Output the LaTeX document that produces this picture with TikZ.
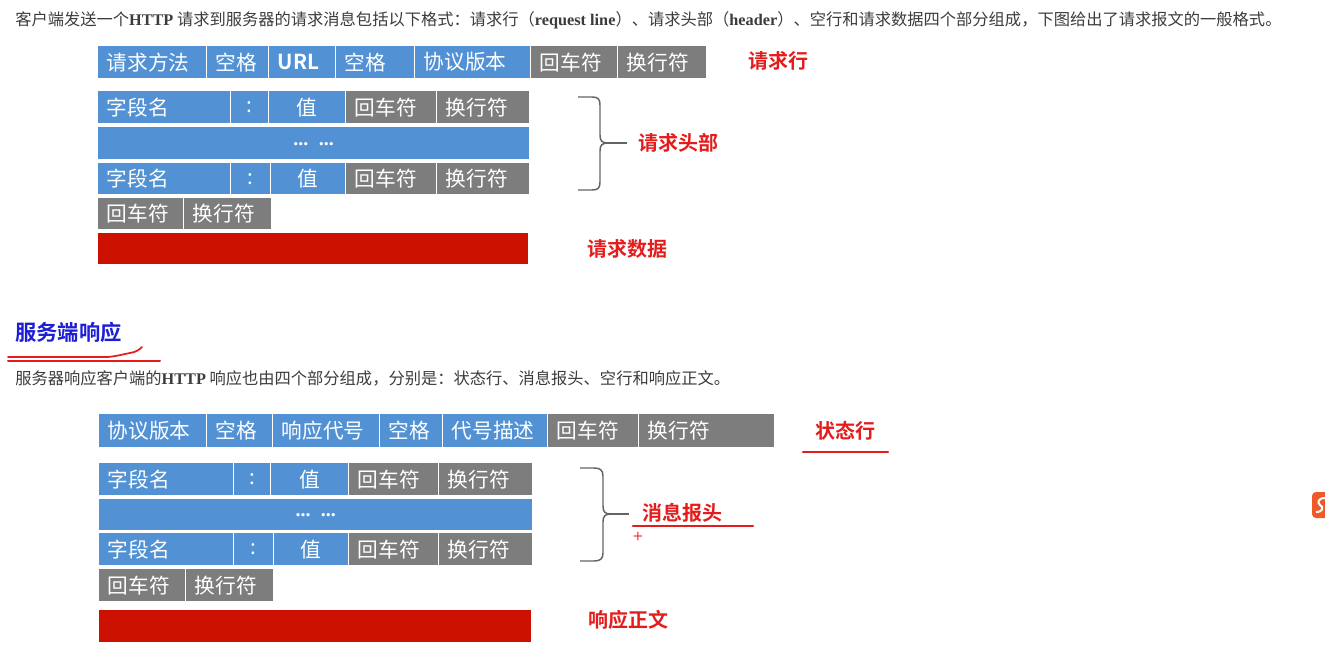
\documentclass[tikz,border=0pt]{standalone}
\usepackage{fontspec}
\setmainfont{Liberation Serif}
\newfontfamily\cjk{Noto Sans CJK SC}[BoldFont={Noto Sans CJK SC Bold}]
\definecolor{cblue}{RGB}{82,146,212}
\definecolor{cgrey}{RGB}{125,125,125}
\definecolor{cbar}{RGB}{204,17,0}
\definecolor{lred}{RGB}{228,28,28}
\definecolor{tblue}{RGB}{30,30,215}
\definecolor{ptext}{RGB}{60,60,60}
\definecolor{brace}{RGB}{100,100,100}
\definecolor{logo}{RGB}{240,90,40}
\newcommand\mycell[7]{%
  \pgfmathsetmacro\cw{(#4-#2-18)*0.75}%
  \pgfmathsetmacro\ch{(#5-#3)*0.75}%
  \node[#6, text width=\cw pt, minimum height=\ch pt, anchor=north west] (#1) at (#2,#3) {#7};}
\tikzset{
  cellbase/.style={draw=white, line width=1pt, inner xsep=6.75pt, inner ysep=0pt, text=white, font=\cjk\fontsize{15.5}{15.5}\selectfont},
  bl/.style={cellbase, fill=cblue, align=left},
  bc/.style={cellbase, fill=cblue, align=center},
  gl/.style={cellbase, fill=cgrey, align=left},
  bar/.style={draw=white, line width=1pt, fill=cbar},
  lab/.style={text=lred, font=\cjk\bfseries\fontsize{15}{15}\selectfont, inner sep=0pt, anchor=west},
  para/.style={text=ptext, font=\cjk\fontsize{12.2}{12.2}\selectfont, inner sep=0pt, anchor=base west},
  bracep/.style={draw=brace, line width=1.1pt},
  uline/.style={draw=lred, line width=1.6pt, line cap=round}
}
\begin{document}
\begin{tikzpicture}[x=0.75pt,y=-0.75pt]
\useasboundingbox[fill=white] (0,0) rectangle (1325,671);
% intro text
\node[para] (p1) at (15,25) {客户端发送一个{\rmfamily\bfseries HTTP} 请求到服务器的请求消息包括以下格式：请求行（{\rmfamily\bfseries request line}）、请求头部（{\rmfamily\bfseries header}）、空行和请求数据四个部分组成，下图给出了请求报文的一般格式。};
% request line
\mycell{r1}{97}{45}{206}{78}{bl}{请求方法}
\mycell{r2}{206}{45}{268}{78}{bl}{空格}
\mycell{r3}{268}{45}{335}{78}{bl}{\textbf{URL}}
\mycell{r4}{335}{45}{414}{78}{bl}{空格}
\mycell{r5}{414}{45}{530}{78}{bl}{协议版本}
\mycell{r6}{530}{45}{617}{78}{gl}{回车符}
\mycell{r7}{617}{45}{706}{78}{gl}{换行符}
\node[lab] (lreq) at (748,61) {请求行};
% header rows
\mycell{h1}{97}{90}{230}{123}{bl}{字段名}
\mycell{h2}{230}{90}{268}{123}{bc}{:}
\mycell{h3}{268}{90}{345}{123}{bc}{值}
\mycell{h4}{345}{90}{436}{123}{gl}{回车符}
\mycell{h5}{436}{90}{529}{123}{gl}{换行符}
\mycell{h6}{97}{126}{529}{159}{bc}{\raisebox{-3pt}{\rmfamily\bfseries\fontsize{15}{15}\selectfont ... ...}}
\mycell{h7}{97}{162}{230}{194}{bl}{字段名}
\mycell{h8}{230}{162}{270}{194}{bc}{:}
\mycell{h9}{270}{162}{345}{194}{bc}{值}
\mycell{h10}{345}{162}{436}{194}{gl}{回车符}
\mycell{h11}{436}{162}{529}{194}{gl}{换行符}
\mycell{e1}{97}{197}{183}{229}{gl}{回车符}
\mycell{e2}{183}{197}{271}{229}{gl}{换行符}
\draw[bar] (97,232) rectangle (529,265);
\draw[bracep] (578,97) -- (592,97) .. controls (598,97) and (600,99) .. (600,105) -- (600,135) .. controls (600,141) and (602,143) .. (608,143) .. controls (602,143) and (600,145) .. (600,151) -- (600,182) .. controls (600,188) and (598,190) .. (592,190) -- (578,190);
\draw[draw=brace, line width=1.8pt] (606,143) -- (627,143);
\node[lab] (lhead) at (638,143) {请求头部};
\node[lab] (ldata) at (587,249) {请求数据};
% section 2 heading
\node[text=tblue, font=\cjk\bfseries\fontsize{16}{16}\selectfont, inner sep=0pt, anchor=west] (sec) at (15,332) {服务端响应};
\draw[uline, line width=1.3pt] (8,357) -- (108,357) .. controls (118,356) and (124,354) .. (130,353) .. controls (136,352) and (139,350) .. (142,347);
\draw[uline, line width=1.5pt] (8,361) -- (160,361);
\node[para] (p2) at (15,384) {服务器响应客户端的{\rmfamily\bfseries HTTP} 响应也由四个部分组成，分别是：状态行、消息报头、空行和响应正文。};
% status line
\mycell{s1}{98}{413}{206}{447}{bl}{协议版本}
\mycell{s2}{206}{413}{272}{447}{bl}{空格}
\mycell{s3}{272}{413}{379}{447}{bl}{响应代号}
\mycell{s4}{379}{413}{442}{447}{bl}{空格}
\mycell{s5}{442}{413}{547}{447}{bl}{代号描述}
\mycell{s6}{547}{413}{638}{447}{gl}{回车符}
\mycell{s7}{638}{413}{774}{447}{gl}{换行符}
\node[lab] (lstat) at (815,431) {状态行};
\draw[uline] (803,452) -- (888,452);
% response header rows
\mycell{k1}{98}{462}{233}{495}{bl}{字段名}
\mycell{k2}{233}{462}{270}{495}{bc}{:}
\mycell{k3}{270}{462}{348}{495}{bc}{值}
\mycell{k4}{348}{462}{438}{495}{gl}{回车符}
\mycell{k5}{438}{462}{532}{495}{gl}{换行符}
\mycell{k6}{98}{498}{532}{530}{bc}{\raisebox{-3pt}{\rmfamily\bfseries\fontsize{15}{15}\selectfont ... ...}}
\mycell{k7}{98}{532}{233}{565}{bl}{字段名}
\mycell{k8}{233}{532}{273}{565}{bc}{:}
\mycell{k9}{273}{532}{348}{565}{bc}{值}
\mycell{k10}{348}{532}{438}{565}{gl}{回车符}
\mycell{k11}{438}{532}{532}{565}{gl}{换行符}
\mycell{f1}{98}{568}{185}{601}{gl}{回车符}
\mycell{f2}{185}{568}{273}{601}{gl}{换行符}
\draw[bar] (98,609) rectangle (532,643);
\draw[bracep] (580,468) -- (594,468) .. controls (600,468) and (603,470) .. (603,476) -- (603,506) .. controls (603,512) and (605,514) .. (611,514) .. controls (605,514) and (603,516) .. (603,522) -- (603,553) .. controls (603,559) and (600,561) .. (594,561) -- (580,561);
\draw[draw=brace, line width=1.8pt] (609,514) -- (629,514);
\node[lab] (lmsg) at (642,513) {消息报头};
\draw[uline] (633,526) -- (753,526);
\node[text=lred, font=\sffamily\bfseries\fontsize{9}{9}\selectfont, inner sep=0pt] (plus) at (638,536) {+};
\node[lab] (lbody) at (588,620) {响应正文};
% partial logo at right edge
\fill[logo, rounded corners=3pt] (1312,492) rectangle (1335,518);
\draw[white, line width=1.5pt] (1325,498) .. controls (1318,498) and (1317,503) .. (1320,505) .. controls (1324,507) and (1323,512) .. (1316,512);
\end{tikzpicture}
\end{document}
